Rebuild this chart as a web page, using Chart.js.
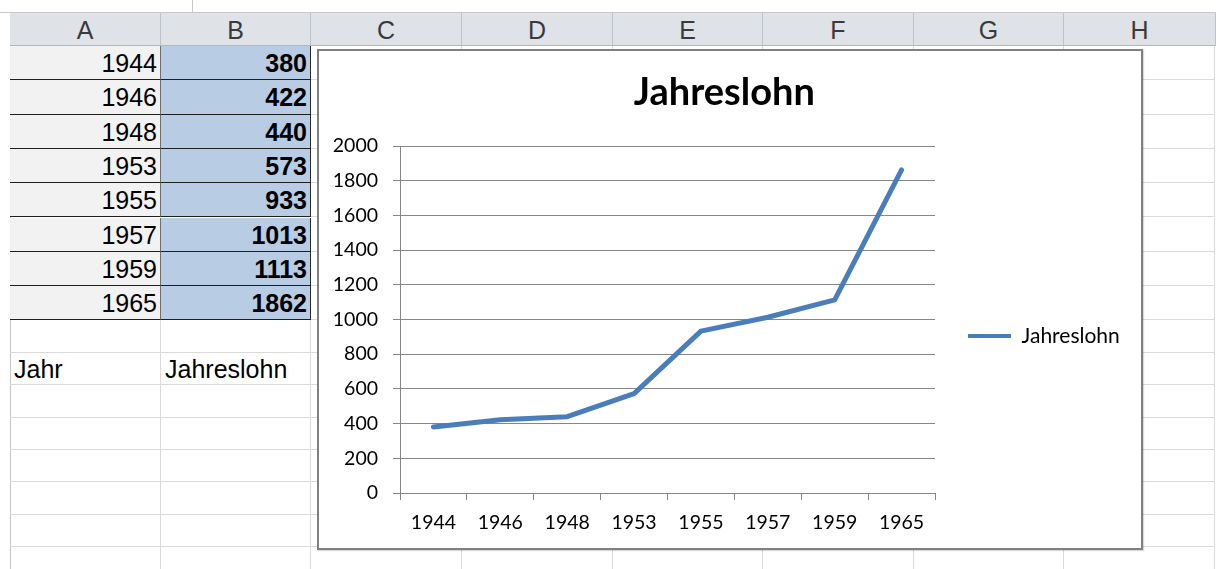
<!DOCTYPE html>
<html><head><meta charset="utf-8">
<script src="https://cdn.jsdelivr.net/npm/chart.js@4.4.1/dist/chart.umd.min.js"></script>
<style>
html,body{margin:0;padding:0;background:#fff;}
body{width:1216px;height:569px;overflow:hidden;position:relative;font-family:"Liberation Sans",Arial,sans-serif;}
.abs{position:absolute;box-sizing:border-box;}
.hdr{background:#dfe3e8;color:#3a3a3a;font-size:25px;text-align:center;line-height:34px;border-right:1px solid #bcc3cb;border-bottom:1px solid #b0b7bf;}
.cell{font-size:25px;display:flex;align-items:center;padding:2px 3px 0 4px;border-right:1px solid #dadada;border-bottom:1px solid #dadada;white-space:nowrap;color:#000;}
#chartBox{left:317px;top:49px;width:826px;height:501px;border:2px solid #808080;background:#fff;box-shadow:1px 1px 1px rgba(0,0,0,0.15);}
#c{display:block;}
</style></head><body>
<div id="sheet"></div>
<div id="chartBox" class="abs"><canvas id="c" width="822" height="497"></canvas></div>
<script>
// ---- data ----
const years = ['1944','1946','1948','1953','1955','1957','1959','1965'];
const wages = [380, 422, 440, 573, 933, 1013, 1113, 1862];
const seriesName = 'Jahreslohn';
const chartTitle = 'Jahreslohn';
const colLetters = ['A','B','C','D','E','F','G','H'];
const labelA = 'Jahr';
const labelB = 'Jahreslohn';
const yTickMin = 0, yTickMax = 2000, yTickStep = 200;

// ---- spreadsheet ----
const sheet = document.getElementById('sheet');
const colX = [10,161,311,462,613,763,914,1064,1215];
function box(l,t,w,h,cls,style,text){
  const d=document.createElement('div');
  d.className='abs '+(cls||'');
  d.style.cssText=`left:${l}px;top:${t}px;width:${w}px;height:${h}px;`+(style||'');
  if(text!==undefined) d.textContent=text;
  sheet.appendChild(d); return d;
}
// top strip lines
box(0,12,1216,1,'','background:#c8c8c8;');
box(192,0,1,12,'','background:#c8c8c8;');
box(10,12,1,557,'','background:#c8c8c8;');
// header
for(let i=0;i<colLetters.length;i++){
  box(colX[i],13,colX[i+1]-colX[i]+(i===7?1:0),33,'hdr','',colLetters[i]);
}
// rows
const rowY=[46];
for(let i=0;i<8;i++) rowY.push(rowY[rowY.length-1]+34.3);
while(rowY[rowY.length-1]<580) rowY.push(rowY[rowY.length-1]+32.4);
for(let r=0;r<rowY.length-1;r++){
  const t=rowY[r], h=rowY[r+1]-rowY[r];
  for(let c=0;c<8;c++){
    const l=colX[c], w=colX[c+1]-colX[c];
    let style='', text, inData = r<years.length;
    if(inData && c===0){
      style='background:#f2f2f2;justify-content:flex-end;border-bottom:1px solid #1e1e1e;border-right:1px solid #6f6f6f;';
      text=years[r];
    } else if(inData && c===1){
      style='background:#b8cce4;justify-content:flex-end;font-weight:bold;border-bottom:1px solid #1e1e1e;border-right:1px solid #2a2a2a;';
      text=String(wages[r]);
    } else if(r===years.length+1 && c===0){ text=labelA; }
    else if(r===years.length+1 && c===1){ text=labelB; }
    box(l,t,w,h,'cell',style,text);
  }
}

// ---- chart ----
const canvas=document.getElementById('c');
const ctx=canvas.getContext('2d');
const legendFont=21, legendPad=33, legendBox=43;
ctx.font=legendFont+'px Lato';
const tw=ctx.measureText(seriesName).width;
const legendW=legendPad+legendBox+legendFont/2+tw+10;
const padRight=Math.max(0,206-legendW);
const lineColor='#4a7ebb';
const axisFont={family:'Lato',size:19.5};

new Chart(ctx,{
  type:'line',
  data:{labels:years,datasets:[{
    label:seriesName,data:wages,borderColor:lineColor,backgroundColor:lineColor,
    borderWidth:5,pointRadius:0,pointHoverRadius:0,tension:0,
    borderCapStyle:'round',borderJoinStyle:'round',fill:false
  }]},
  options:{
    responsive:false,animation:false,devicePixelRatio:1,
    layout:{padding:{left:0,right:padRight,top:0,bottom:0}},
    plugins:{
      title:{display:true,text:chartTitle,color:'#000',
        font:{family:'Lato',size:38,weight:'bold',lineHeight:1.2},
        padding:{top:19,bottom:30.4}},
      legend:{position:'right',align:'start',
        title:{display:true,text:' ',font:{size:10,lineHeight:1.2},padding:{top:229.5,bottom:0}},
        labels:{padding:legendPad,boxWidth:legendBox,boxHeight:4,color:'#000',
          font:{family:'Lato',size:legendFont},
          generateLabels(chart){
            const items=Chart.defaults.plugins.legend.labels.generateLabels(chart);
            items.forEach(it=>{it.lineWidth=0;it.fillStyle=lineColor;});
            return items;
          }}},
      tooltip:{enabled:false}
    },
    scales:{
      x:{offset:true,
        grid:{display:true,drawOnChartArea:false,drawTicks:true,tickLength:7,offset:true,color:'#868686'},
        border:{display:true,color:'#868686'},
        ticks:{color:'#000',font:axisFont,padding:11,maxRotation:0,autoSkip:false},
        afterFit(s){s.height=55;}},
      y:{min:yTickMin,max:yTickMax,
        ticks:{stepSize:yTickStep,color:'#000',font:axisFont,padding:15,callback:v=>String(v)},
        grid:{color:'#868686',tickLength:7},
        border:{display:true,color:'#868686'},
        afterFit(s){s.width=81;}}
    }
  }
});
</script>
</body></html>
